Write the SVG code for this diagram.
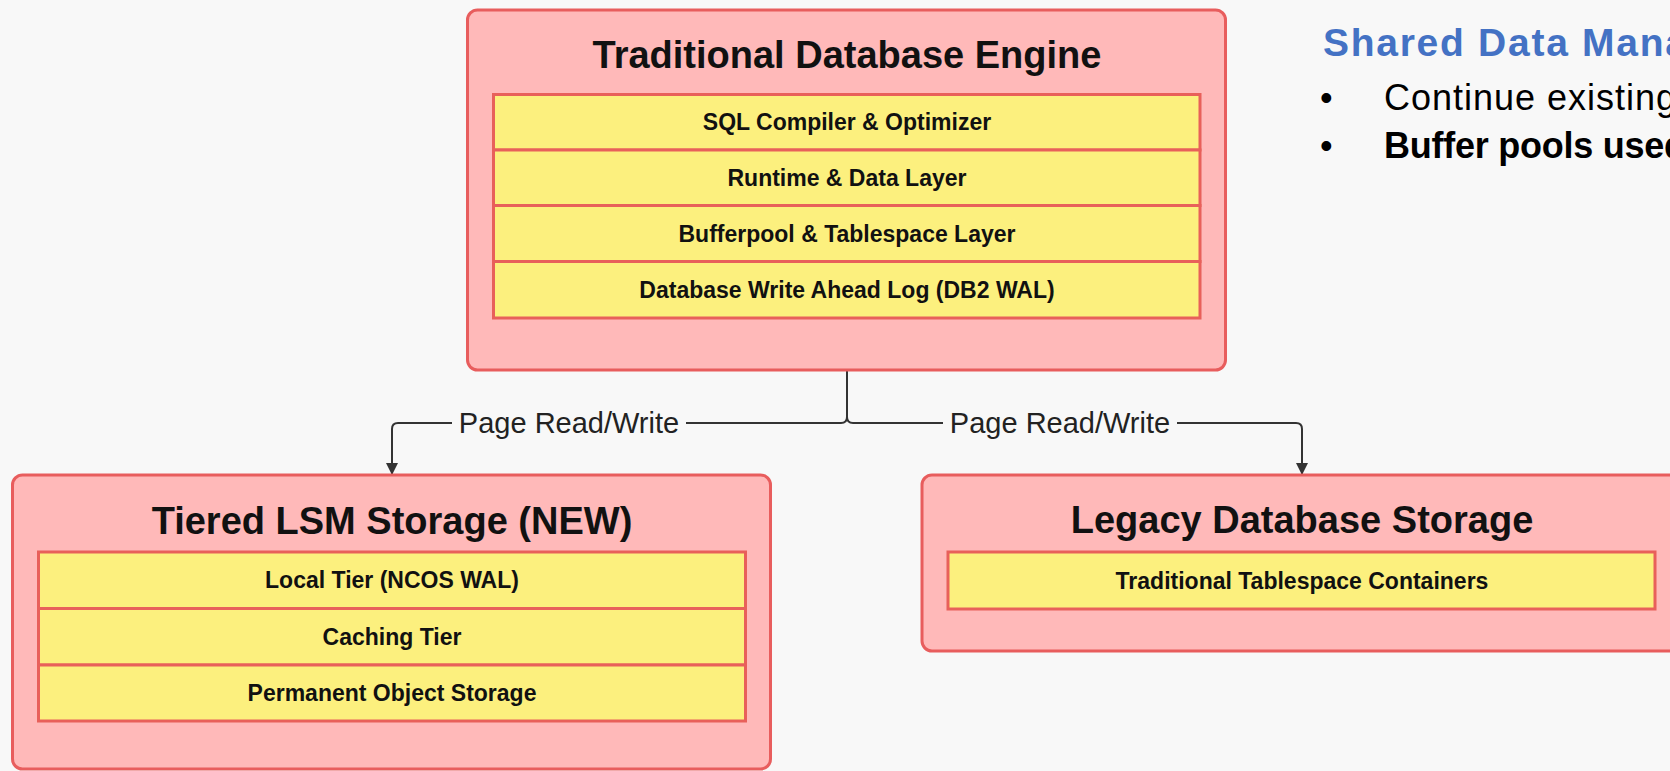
<svg xmlns="http://www.w3.org/2000/svg" width="1670" height="771" viewBox="0 0 1670 771">
  <defs>
    <marker id="arrow" viewBox="0 0 12 12" refX="11" refY="6" markerWidth="12" markerHeight="13" markerUnits="userSpaceOnUse" orient="auto">
      <path d="M0,0 L12,6 L0,12 Z" fill="#333333"/>
    </marker>
    <style>
      .outer { fill: #ffb9b9; stroke: #e85d5d; stroke-width: 3; }
      .layer { fill: #fcf07e; stroke: #e8605a; stroke-width: 3; }
      .title { font-family: "Liberation Sans", Arial, sans-serif; font-weight: bold; font-size: 38px; fill: #111111; text-anchor: middle; }
      .row { font-family: "Liberation Sans", Arial, sans-serif; font-weight: bold; font-size: 23px; fill: #111111; text-anchor: middle; }
      .edge { fill: none; stroke: #333333; stroke-width: 2; }
      .elabel { font-family: "Liberation Sans", Arial, sans-serif; font-size: 29px; fill: #222222; text-anchor: middle; }
      .lbg { fill: #f8f8f8; }
      .head { font-family: "Liberation Sans", Arial, sans-serif; font-weight: bold; font-size: 39px; fill: #4472c4; }
      .bullet { font-family: "Liberation Sans", Arial, sans-serif; font-size: 36px; fill: #000000; }
    </style>
  </defs>

  <rect x="0" y="0" width="1670" height="771" fill="#f8f8f8"/>

  <!-- connectors from the engine to both storage back-ends -->
  <g id="connectors">
    <path class="edge" d="M847,371 V417 Q847,423 841,423 H398 Q392,423 392,429 V474" marker-end="url(#arrow)"/>
    <path class="edge" d="M847,371 V417 Q847,423 853,423 H1296 Q1302,423 1302,429 V474" marker-end="url(#arrow)"/>
    <rect class="lbg" x="452" y="405" width="234" height="36"/>
    <text class="elabel" x="569" y="433">Page Read/Write</text>
    <rect class="lbg" x="943" y="405" width="234" height="36"/>
    <text class="elabel" x="1060" y="433">Page Read/Write</text>
  </g>

  <!-- engine stack -->
  <g id="engine">
    <rect class="outer" x="467.5" y="10" width="758" height="360" rx="10"/>
    <text class="title" x="847" y="68">Traditional Database Engine</text>
    <rect class="layer" x="493.5" y="94.5" width="706.5" height="55.5"/>
    <text class="row" x="847" y="130">SQL Compiler &amp; Optimizer</text>
    <rect class="layer" x="493.5" y="150" width="706.5" height="55.5"/>
    <text class="row" x="847" y="186">Runtime &amp; Data Layer</text>
    <rect class="layer" x="493.5" y="205.5" width="706.5" height="56"/>
    <text class="row" x="847" y="242">Bufferpool &amp; Tablespace Layer</text>
    <rect class="layer" x="493.5" y="261.5" width="706.5" height="56.5"/>
    <text class="row" x="847" y="298">Database Write Ahead Log (DB2 WAL)</text>
  </g>

  <!-- new tiered storage -->
  <g id="lsm-storage">
    <rect class="outer" x="12.5" y="475" width="758" height="294" rx="10"/>
    <text class="title" x="392" y="534">Tiered LSM Storage (NEW)</text>
    <rect class="layer" x="38.5" y="552" width="707" height="56.5"/>
    <text class="row" x="392" y="588">Local Tier (NCOS WAL)</text>
    <rect class="layer" x="38.5" y="608.5" width="707" height="56.5"/>
    <text class="row" x="392" y="645">Caching Tier</text>
    <rect class="layer" x="38.5" y="665" width="707" height="56"/>
    <text class="row" x="392" y="701">Permanent Object Storage</text>
  </g>

  <!-- legacy storage -->
  <g id="legacy-storage">
    <rect class="outer" x="922" y="475" width="760" height="176" rx="10"/>
    <text class="title" x="1302" y="533">Legacy Database Storage</text>
    <rect class="layer" x="948" y="552" width="707" height="57"/>
    <text class="row" x="1302" y="588.5">Traditional Tablespace Containers</text>
  </g>

  <!-- side notes, running off the right edge -->
  <g id="notes">
    <text class="head" x="1323" y="56" textLength="364" lengthAdjust="spacing">Shared Data Mana</text>
    <text class="bullet" x="1320" y="110">•</text>
    <text class="bullet" x="1384" y="110" textLength="292" lengthAdjust="spacing">Continue existing</text>
    <text class="bullet" x="1320" y="158">•</text>
    <text class="bullet" x="1384" y="158" font-weight="bold" font-size="35" textLength="302" lengthAdjust="spacing">Buffer pools used</text>
  </g>
</svg>
